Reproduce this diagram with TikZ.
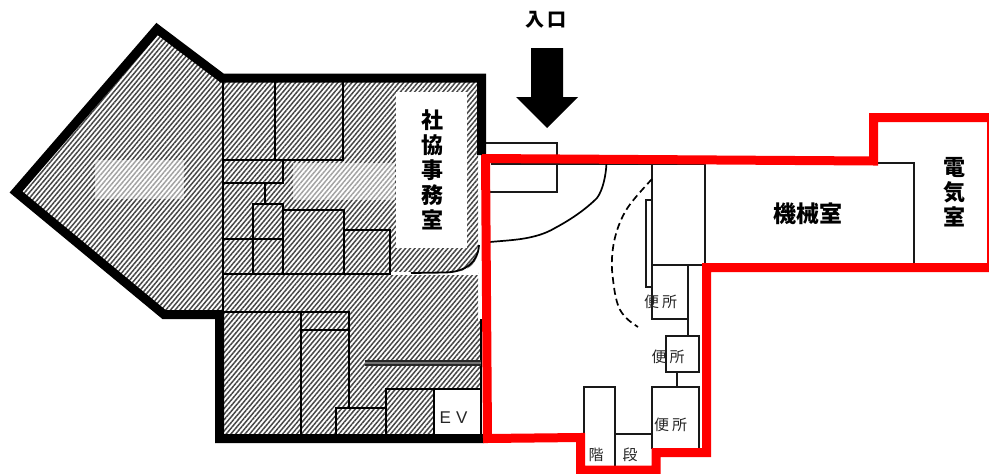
\documentclass[tikz,border=0pt]{standalone}
\usepackage{fontspec}
\setmainfont{Liberation Sans}
\newfontfamily\cjk{Noto Sans CJK JP}
\usetikzlibrary{patterns.meta}
\tikzset{
  hatch/.style={pattern={Lines[angle=50,distance=3.6pt,line width=1.5pt]},pattern color=black!72},
  paleoverlay/.style={fill=white,fill opacity=.5,draw=none},
  thin wall/.style={draw=black,line width=2.3pt,line cap=rect},
  fine wall/.style={draw=black!90,line width=1.9pt},
  thick wall/.style={draw=black,line width=9pt,miter limit=10},
  redwall/.style={draw=red,line width=9pt,miter limit=10},
  bigl/.style={font=\cjk\bfseries\fontsize{22}{25}\selectfont,align=center,inner sep=0pt,text=black},
  smalll/.style={font=\cjk\fontsize{15}{16}\selectfont,inner sep=0pt,text=black!85},
}
\begin{document}
\begin{tikzpicture}[x=1pt,y=-1pt]
\useasboundingbox (0,0) rectangle (989,474);
% hatched floor
\fill[white] (157,30)--(222,78)--(478,78)--(478,320)--(481,320)--(481,438)--(220,438)--(220,315)--(165,315)--(13,192)--cycle;
\fill[hatch] (157,30)--(222,78)--(478,78)--(478,320)--(481,320)--(481,438)--(220,438)--(220,315)--(165,315)--(13,192)--cycle;
% pale patches
\fill[paleoverlay] (95,160) rectangle (184,199);
\fill[paleoverlay] (293,163) rectangle (395,200);
% white room and slits
\fill[white] (396,92) rectangle (467,248);
\fill[white] (390,272) rectangle (478,275);
\fill[white] (479,248) -- (479,272) -- (455,272) .. controls (470,271) and (478,262) .. (479,248) -- cycle;
\fill[white] (434,389) rectangle (481,434);
% hatched-area walls
\draw[thin wall] (223,82) -- (223,315);
\draw[thin wall] (275,82) -- (275,160);
\draw[thin wall] (343,82) -- (343,160);
\draw[thin wall] (223,160) -- (343,160);
\draw[thin wall] (223,183) -- (283,183) -- (283,160);
\draw[thin wall] (265,183) -- (265,204);
\draw[thin wall] (253,274) -- (253,204) -- (283,204) -- (283,274);
\draw[thin wall] (223,239) -- (283,239);
\draw[thin wall] (223,274) -- (390,274) -- (390,230) -- (344,230);
\draw[thin wall] (283,210) -- (344,210) -- (344,274);
\draw[thin wall] (223,312) -- (349,312) -- (349,408);
\draw[thin wall] (301,312) -- (301,434);
\draw[thin wall] (301,330) -- (349,330);
\draw[thin wall] (336,434) -- (336,408) -- (386,408);
\draw[thin wall] (386,434) -- (386,389) -- (481,389);
\draw[thin wall] (434,389) -- (434,434);
\draw[thin wall] (481,320) -- (481,434);
\draw[draw=black!85,line width=6pt] (365,363) -- (481,363);
\draw[draw=black!55,line width=1.5pt] (365,363) -- (481,363);
\draw[draw=black,line width=1.8pt] (411,273) -- (445,272.5) .. controls (466,272) and (478,262) .. (479,245);
% right-hand rooms
\draw[fine wall] (486,143) -- (557,143) -- (557,192) -- (486,192);
\draw[fine wall] (652,164) -- (652,319) -- (688,319);
\draw[fine wall] (705,164) -- (705,265);
\draw[fine wall] (652,265) -- (702,265);
\draw[fine wall] (688,265) -- (688,336);
\draw[fine wall] (646,200) rectangle (652,287);
\draw[fine wall] (705,163) -- (914,163) -- (914,265);
\draw[fine wall] (666,336) rectangle (699,372);
\draw[fine wall] (677,372) -- (677,387);
\draw[fine wall] (652,449) -- (652,387) -- (699,387) -- (699,449);
\draw[fine wall] (584,438) -- (584,387) -- (615,387) -- (615,467);
\draw[fine wall] (615,434) -- (652,434);
\draw[fine wall] (491,164) -- (705,164);
% door swings
\draw[black,line width=1.7pt] (606.5,163) .. controls (606,175) and (603,190) .. (597,198) .. controls (585,210) and (570,220) .. (555,228) .. controls (535,240) and (510,240) .. (490,242);
\draw[black,line width=1.7pt,dash pattern=on 7pt off 4pt] (652,179) .. controls (640,192) and (630,203) .. (625,212) .. controls (615,230) and (611,250) .. (612,270) .. controls (614,290) and (616,305) .. (622,313) .. controls (626,319) and (632,323) .. (638,327);
% outer walls
\draw[thick wall] (481.5,155) -- (481.5,78) -- (222,78) -- (157,29) -- (16,192) -- (164,314.5) -- (219.5,314.5) -- (219.5,438.5) -- (484,438.5);
\draw[redwall] (482,158.5) -- (873.5,161) -- (873.5,117.5) -- (989,117.5);
\draw[draw=red,line width=2pt] (988,117) -- (988,267);
\draw[redwall] (989,267.5) -- (706.5,267.5) -- (706.5,452.5) -- (656,452.5) -- (656,470) -- (580.5,470) -- (580.5,437.5) -- (487.5,438.5) -- (485.5,155);
% entrance arrow
\fill[black] (531,48) -- (563,48) -- (563,97) -- (578,97) -- (547,128) -- (516,97) -- (531,97) -- cycle;
% labels
\node[bigl,font=\cjk\bfseries\fontsize{19}{20}\selectfont] (iriguchi) at (546,20) {入\hspace{3pt}口};
\node[bigl] (shakyo) at (432,170) {社\\協\\事\\務\\室};
\node[bigl,font=\cjk\bfseries\fontsize{23}{25}\selectfont] (kikai) at (808,214) {機械室};
\node[bigl] (denki) at (954,192) {電\\気\\室};
\node[smalll] (w1) at (660.5,302) {便\hspace{3pt}所};
\node[smalll] (w2) at (668,357) {便\hspace{3pt}所};
\node[smalll] (w3) at (670.5,425) {便\hspace{3pt}所};
\node[smalll] (kai) at (596,455) {階};
\node[smalll] (dan) at (630,455) {段};
\node[smalll,font=\fontsize{17}{18}\selectfont] (ev) at (453.5,418) {E\hspace{5pt}V};
\end{tikzpicture}
\end{document}
